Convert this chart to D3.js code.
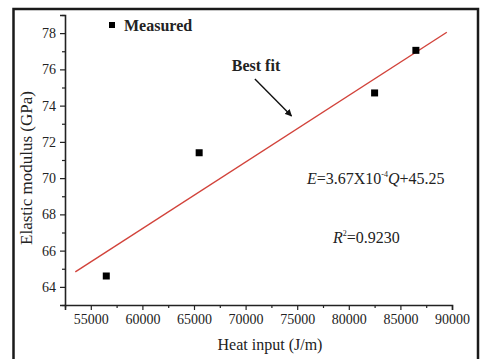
<!DOCTYPE html>
<html>
<head>
<meta charset="utf-8">
<script src="https://cdn.jsdelivr.net/npm/d3@7/dist/d3.min.js"></script>
<style>
  html, body { margin: 0; padding: 0; background: #ffffff; }
  svg { display: block; }
  text { font-family: "Liberation Serif", "Times New Roman", serif; fill: #222; }
</style>
</head>
<body>
<svg id="chart" width="485" height="359"></svg>
<script>
// ---- data ----
const heatInput = [56500, 65500, 82500, 86500];      // J/m
const modulus   = [64.6, 71.4, 74.7, 77.05];         // GPa
const fitQ      = [53500, 89500];                     // best-fit line ends
const fitE      = [64.83, 78.05];
const xTicks    = [55000, 60000, 65000, 70000, 75000, 80000, 85000, 90000];
const yTicks    = [64, 66, 68, 70, 72, 74, 76, 78];
const xMinor    = [52500, 57500, 62500, 67500, 72500, 77500, 82500, 87500];
const yMinor    = [63, 65, 67, 69, 71, 73, 75, 77, 79];
const xDomain   = [52500, 90000];
const yDomain   = [63, 79];
const arrowFrom = [70900, 75.47];
const arrowTo   = [74450, 73.43];

const svg = d3.select("#chart");
const x = d3.scaleLinear().domain(xDomain).range([65, 452]);
const y = d3.scaleLinear().domain(yDomain).range([305, 15]);

// outer frame
svg.append("rect").attr("x", 13.5).attr("y", 9).attr("width", 464.5).attr("height", 380)
  .attr("fill", "none").attr("stroke", "#1a1a1a").attr("stroke-width", 2.5);

// axes
const xAxis = svg.append("g").attr("transform", "translate(0,305)")
  .call(d3.axisBottom(x).tickValues(xTicks).tickFormat(d3.format("d")).tickSizeOuter(0).tickSize(5).tickPadding(4));
svg.append("g").attr("transform", "translate(0,305)")
  .call(d3.axisBottom(x).tickValues(xMinor).tickFormat("").tickSizeOuter(0).tickSize(3))
  .select(".domain").remove();
const yAxis = svg.append("g").attr("transform", "translate(65,0)")
  .call(d3.axisLeft(y).tickValues(yTicks).tickFormat(d3.format("d")).tickSizeOuter(0).tickSize(5).tickPadding(4));
svg.append("g").attr("transform", "translate(65,0)")
  .call(d3.axisLeft(y).tickValues(yMinor).tickFormat("").tickSizeOuter(0).tickSize(3))
  .select(".domain").remove();

svg.selectAll(".domain").attr("stroke", "#222").attr("stroke-width", 1.6);
svg.selectAll(".tick line").attr("stroke", "#222").attr("stroke-width", 1.2);
xAxis.selectAll(".tick text").style("font-family", "Liberation Serif").style("font-size", "14px").attr("fill", "#333");
yAxis.selectAll(".tick text").style("font-family", "Liberation Serif").style("font-size", "14px").attr("fill", "#333");

// fit line
svg.append("line")
  .attr("x1", x(fitQ[0])).attr("y1", y(fitE[0]))
  .attr("x2", x(fitQ[1])).attr("y2", y(fitE[1]))
  .attr("stroke", "#d2433b").attr("stroke-width", 1.4);

// measured points
svg.selectAll("rect.pt").data(heatInput.map((q, i) => [q, modulus[i]]))
  .enter().append("rect").attr("class", "pt")
  .attr("x", d => x(d[0]) - 3.5).attr("y", d => y(d[1]) - 3.5)
  .attr("width", 7).attr("height", 7).attr("fill", "#000");

// legend
svg.append("rect").attr("x", 109).attr("y", 22).attr("width", 6).attr("height", 6).attr("fill", "#000");
svg.append("text").attr("x", 124).attr("y", 31).style("font-size", "16px").style("font-weight", "bold")
  .text("Measured");

// arrow annotation
svg.append("defs").append("marker").attr("id", "ah").attr("viewBox", "0 0 10 10")
  .attr("refX", 9).attr("refY", 5).attr("markerWidth", 5).attr("markerHeight", 5).attr("orient", "auto")
  .append("path").attr("d", "M0,0L10,5L0,10z").attr("fill", "#111");
svg.append("line")
  .attr("x1", x(arrowFrom[0])).attr("y1", y(arrowFrom[1]))
  .attr("x2", x(arrowTo[0])).attr("y2", y(arrowTo[1]))
  .attr("stroke", "#111").attr("stroke-width", 1.4).attr("marker-end", "url(#ah)");
svg.append("text").attr("x", 256).attr("y", 71).attr("text-anchor", "middle")
  .style("font-size", "16px").style("font-weight", "bold").text("Best fit");

// equation
const eq = svg.append("text").attr("x", 307).attr("y", 184).style("font-size", "16px");
eq.append("tspan").style("font-style", "italic").text("E");
eq.append("tspan").text("=3.67X10");
eq.append("tspan").attr("dy", -7).style("font-size", "8px").text("-4");
eq.append("tspan").attr("dy", 7).style("font-style", "italic").text("Q");
eq.append("tspan").text("+45.25");

const r2 = svg.append("text").attr("x", 333).attr("y", 243).style("font-size", "16px");
r2.append("tspan").style("font-style", "italic").text("R");
r2.append("tspan").attr("dy", -7).style("font-size", "8px").text("2");
r2.append("tspan").attr("dy", 7).text("=0.9230");

// axis titles
svg.append("text").attr("x", 270).attr("y", 350).attr("text-anchor", "middle")
  .style("font-size", "16px").text("Heat input (J/m)");
svg.append("text").attr("transform", "translate(32,168) rotate(-90)").attr("text-anchor", "middle")
  .style("font-size", "17px").text("Elastic modulus (GPa)");
</script>
</body>
</html>
